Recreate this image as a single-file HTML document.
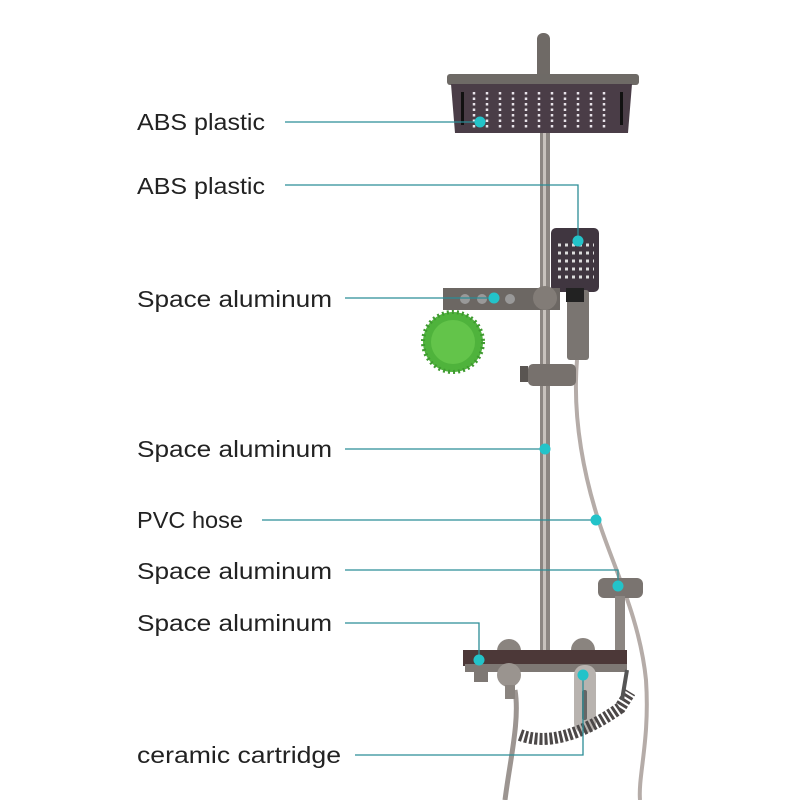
<!DOCTYPE html>
<html><head><style>body{margin:0;background:#fff}svg{display:block}</style></head><body>
<svg width="800" height="800" viewBox="0 0 800 800" xmlns="http://www.w3.org/2000/svg">
<rect width="800" height="800" fill="#fff"/>
<!-- hose -->
<path d="M577 360 C572 420 585 480 600 525 C615 570 640 620 646 680 C650 740 638 775 640 800" fill="none" stroke="#b5aca8" stroke-width="4"/>
<path d="M515 690 C520 720 510 760 505 800" fill="none" stroke="#9c9591" stroke-width="5"/>
<!-- arm -->
<rect x="537" y="33" width="13" height="50" rx="6" fill="#6f6a66"/>
<!-- pole -->
<rect x="540" y="130" width="10" height="530" fill="#8c8682"/>
<rect x="543" y="130" width="3" height="530" fill="#c8c2bd"/>
<!-- head -->
<rect x="447" y="74" width="192" height="11" rx="3" fill="#6e6a66"/>
<path d="M451 84 L632 84 L628 133 L455 133 Z" fill="#4a3d47"/>
<g stroke="#e8e4ea" stroke-width="2.5" stroke-dasharray="2.5 3">
<line x1="474" y1="92" x2="474" y2="128"/><line x1="487" y1="92" x2="487" y2="128"/><line x1="500" y1="92" x2="500" y2="128"/><line x1="513" y1="92" x2="513" y2="128"/><line x1="526" y1="92" x2="526" y2="128"/><line x1="539" y1="92" x2="539" y2="128"/><line x1="552" y1="92" x2="552" y2="128"/><line x1="565" y1="92" x2="565" y2="128"/><line x1="578" y1="92" x2="578" y2="128"/><line x1="591" y1="92" x2="591" y2="128"/><line x1="604" y1="92" x2="604" y2="128"/>
</g>
<rect x="461" y="92" width="3" height="33" fill="#111"/><rect x="620" y="92" width="3" height="33" fill="#111"/>
<!-- handheld -->
<rect x="551" y="228" width="48" height="64" rx="5" fill="#403640"/>
<g stroke="#ddd" stroke-width="3" stroke-dasharray="3 4">
<line x1="558" y1="245" x2="594" y2="245"/><line x1="558" y1="253" x2="594" y2="253"/><line x1="558" y1="261" x2="594" y2="261"/><line x1="558" y1="269" x2="594" y2="269"/><line x1="558" y1="277" x2="594" y2="277"/>
</g>
<rect x="567" y="290" width="22" height="70" rx="3" fill="#7a7571"/>
<rect x="566" y="288" width="18" height="14" fill="#222"/>
<!-- shelf -->
<rect x="443" y="288" width="117" height="22" fill="#6c6763"/>
<circle cx="465" cy="299" r="5" fill="#999"/><circle cx="482" cy="299" r="5" fill="#999"/><circle cx="510" cy="299" r="5" fill="#999"/>
<circle cx="545" cy="298" r="12" fill="#827c77"/>
<circle cx="453" cy="342" r="30" fill="#4fb33c"/>
<circle cx="453" cy="342" r="30" fill="none" stroke="#3f9a30" stroke-width="4" stroke-dasharray="2 3"/>
<circle cx="453" cy="342" r="22" fill="#6ccc50" opacity="0.7"/>
<!-- slider -->
<rect x="520" y="366" width="8" height="16" fill="#5a5552"/>
<rect x="528" y="364" width="48" height="22" rx="5" fill="#77716d"/>
<!-- hand shower bracket -->
<rect x="598" y="578" width="45" height="20" rx="6" fill="#7a7470"/>
<rect x="615" y="596" width="10" height="60" fill="#8c8682"/>
<!-- mixer -->
<circle cx="509" cy="651" r="12" fill="#8a847f"/><circle cx="583" cy="650" r="12" fill="#8a847f"/>
<rect x="463" y="650" width="164" height="16" fill="#4c3838"/>
<rect x="465" y="664" width="162" height="8" fill="#7e7874"/>
<rect x="474" y="670" width="14" height="12" fill="#7e7874"/>
<circle cx="509" cy="675" r="12" fill="#9a948f"/>
<rect x="505" y="685" width="10" height="14" fill="#8a847f"/>
<rect x="574" y="665" width="22" height="68" rx="10" fill="#b8b3af"/>
<rect x="582" y="690" width="5" height="30" rx="2" fill="#666"/>
<!-- coil -->
<path d="M520 735 Q560 750 620 708 L630 692" fill="none" stroke="#4c4848" stroke-width="12" stroke-dasharray="3 2"/>
<path d="M627 670 L622 700" stroke="#555" stroke-width="4"/>
<!-- connectors -->
<g stroke="#2b8d96" stroke-width="1.3" fill="none">
<line x1="285" y1="122" x2="480" y2="122"/>
<polyline points="285,185 578,185 578,241"/>
<line x1="345" y1="298" x2="494" y2="298"/>
<line x1="345" y1="449" x2="545" y2="449"/>
<line x1="262" y1="520" x2="596" y2="520"/>
<polyline points="345,570 618,570 618,586"/>
<polyline points="345,623 479,623 479,660"/>
<polyline points="355,755 583,755 583,675"/>
</g>
<g fill="#23c3c9">
<circle cx="480" cy="122" r="5.5"/><circle cx="578" cy="241" r="5.5"/><circle cx="494" cy="298" r="5.5"/><circle cx="545" cy="449" r="5.5"/><circle cx="596" cy="520" r="5.5"/><circle cx="618" cy="586" r="5.5"/><circle cx="479" cy="660" r="5.5"/><circle cx="583" cy="675" r="5.5"/>
</g>
<g font-family="Liberation Sans, sans-serif" font-size="23" fill="#222">
<text x="137" y="130" textLength="128" lengthAdjust="spacingAndGlyphs">ABS plastic</text>
<text x="137" y="194" textLength="128" lengthAdjust="spacingAndGlyphs">ABS plastic</text>
<text x="137" y="307" textLength="195" lengthAdjust="spacingAndGlyphs">Space aluminum</text>
<text x="137" y="457" textLength="195" lengthAdjust="spacingAndGlyphs">Space aluminum</text>
<text x="137" y="528" textLength="106" lengthAdjust="spacingAndGlyphs">PVC hose</text>
<text x="137" y="579" textLength="195" lengthAdjust="spacingAndGlyphs">Space aluminum</text>
<text x="137" y="631" textLength="195" lengthAdjust="spacingAndGlyphs">Space aluminum</text>
<text x="137" y="763" textLength="204" lengthAdjust="spacingAndGlyphs">ceramic cartridge</text>
</g>
</svg>
</body></html>
